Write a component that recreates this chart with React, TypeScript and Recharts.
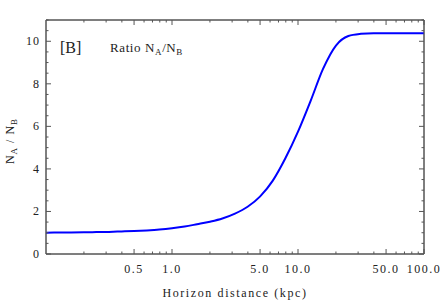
import React from "react";
import { LineChart, Line, XAxis, YAxis, CartesianGrid } from "recharts";

const distances = [0.1, 0.126, 0.158, 0.2, 0.251, 0.316, 0.398, 0.501, 0.631, 0.794, 1.0, 1.26, 1.58, 2.0, 2.51, 3.16, 3.98, 5.01, 6.31, 7.94, 10.0, 12.6, 15.8, 20.0, 25.1, 31.6, 39.8, 50.1, 63.1, 79.4, 100];
const ratios = [1.0, 1.01, 1.015, 1.02, 1.03, 1.04, 1.06, 1.08, 1.11, 1.15, 1.21, 1.29, 1.4, 1.52, 1.67, 1.9, 2.22, 2.71, 3.45, 4.5, 5.75, 7.2, 8.7, 9.8, 10.25, 10.35, 10.38, 10.38, 10.38, 10.38, 10.38];

const xMajorTicks = [0.5, 1, 5, 10, 50, 100];
const xMinorTicks = [0.2, 0.3, 0.4, 0.6, 0.7, 0.8, 0.9, 2, 3, 4, 6, 7, 8, 9, 20, 30, 40, 60, 70, 80, 90];
const yMajorTicks = [0, 2, 4, 6, 8, 10];
const yMinorTicks = [0.5, 1, 1.5, 2.5, 3, 3.5, 4.5, 5, 5.5, 6.5, 7, 7.5, 8.5, 9, 9.5, 10.5, 11];

const data = distances.map((x, i) => ({ x, r: ratios[i] }));
const xTicks = [...xMajorTicks, ...xMinorTicks].sort((a, b) => a - b);
const yTicks = [...yMajorTicks, ...yMinorTicks].sort((a, b) => a - b);

const FONT = "'Liberation Serif', 'Times New Roman', serif";
const TEXT = "#222";
const FRAME = "#555";

const BottomTick = (props: any) => {
  const { x, y, payload } = props;
  const major = xMajorTicks.includes(payload.value);
  return (
    <g>
      <line x1={x} x2={x} y1={y} y2={y - (major ? 5 : 2.5)} stroke={FRAME} strokeWidth={1} />
      {major && (
        <text x={x} y={y + 19} textAnchor="middle" fontFamily={FONT} fontSize={12} letterSpacing={1.5} fill={TEXT}>
          {Number(payload.value).toFixed(1)}
        </text>
      )}
    </g>
  );
};

const TopTick = (props: any) => {
  const { x, y, payload } = props;
  const major = xMajorTicks.includes(payload.value);
  return <line x1={x} x2={x} y1={y} y2={y + (major ? 5 : 2.5)} stroke={FRAME} strokeWidth={1} />;
};

const LeftTick = (props: any) => {
  const { x, y, payload } = props;
  const major = yMajorTicks.includes(payload.value);
  return (
    <g>
      <line x1={x} x2={x + (major ? 5 : 2.5)} y1={y} y2={y} stroke={FRAME} strokeWidth={1} />
      {major && (
        <text x={x - 6} y={y + 4} textAnchor="end" fontFamily={FONT} fontSize={12} letterSpacing={1} fill={TEXT}>
          {payload.value}
        </text>
      )}
    </g>
  );
};

const RightTick = (props: any) => {
  const { x, y, payload } = props;
  const major = yMajorTicks.includes(payload.value);
  return <line x1={x} x2={x - (major ? 5 : 2.5)} y1={y} y2={y} stroke={FRAME} strokeWidth={1} />;
};

export default function App() {
  return (
    <div style={{ position: "absolute", left: 0, top: 0, width: 443, height: 300, background: "#fff" }}>
      <svg width={443} height={300} style={{ position: "absolute", left: 0, top: 0, pointerEvents: "none" }}>
        <text x={60} y={53} fontFamily={FONT} fontSize={16} fill={TEXT}>[B]</text>
        <text x={110} y={52} fontFamily={FONT} fontSize={13} letterSpacing={0.6} fill={TEXT}>
          Ratio N<tspan fontSize={9} dy={3}>A</tspan><tspan dy={-3}>/N</tspan><tspan fontSize={9} dy={3}>B</tspan>
        </text>
        <text x={14} y={141} transform="rotate(-90 14 141)" textAnchor="middle" fontFamily={FONT} fontSize={12} letterSpacing={1} fill={TEXT}>
          N<tspan fontSize={9} dy={3}>A</tspan><tspan dy={-3}> / N</tspan><tspan fontSize={9} dy={3}>B</tspan>
        </text>
        <text x={235} y={297} textAnchor="middle" fontFamily={FONT} fontSize={12} letterSpacing={1.6} fill={TEXT}>
          Horizon distance  (kpc)
        </text>
      </svg>
      <LineChart width={443} height={300} data={data} margin={{ top: 0, right: 0, bottom: 0, left: 0 }}>
        <CartesianGrid
          stroke={FRAME}
          strokeWidth={1}
          horizontalCoordinatesGenerator={(p: any) => [p.offset.top, p.offset.top + p.offset.height]}
          verticalCoordinatesGenerator={(p: any) => [p.offset.left, p.offset.left + p.offset.width]}
        />
        <XAxis
          dataKey="x"
          type="number"
          scale="log"
          domain={[0.1, 100]}
          allowDataOverflow
          ticks={xTicks}
          interval={0}
          height={46}
          tickSize={0}
          tickMargin={0}
          tick={<BottomTick />}
          stroke={FRAME}
          tickLine={false}
        />
        <XAxis
          xAxisId="top"
          orientation="top"
          dataKey="x"
          type="number"
          scale="log"
          domain={[0.1, 100]}
          allowDataOverflow
          ticks={xTicks}
          interval={0}
          height={20}
          tickSize={0}
          tickMargin={0}
          tick={<TopTick />}
          stroke={FRAME}
        />
        <YAxis
          type="number"
          domain={[0, 11]}
          allowDataOverflow
          ticks={yTicks}
          interval={0}
          width={46}
          tickSize={0}
          tickMargin={0}
          tick={<LeftTick />}
          stroke={FRAME}
          tickLine={false}
        />
        <YAxis
          yAxisId="right"
          orientation="right"
          type="number"
          domain={[0, 11]}
          allowDataOverflow
          ticks={yTicks}
          interval={0}
          width={19}
          tickSize={0}
          tickMargin={0}
          tick={<RightTick />}
          stroke={FRAME}
        />
        <Line
          xAxisId="top"
          yAxisId="right"
          type="monotone"
          dataKey="r"
          stroke="none"
          dot={false}
          legendType="none"
          isAnimationActive={false}
        />
        <Line
          type="monotone"
          dataKey="r"
          stroke="#0000ff"
          strokeWidth={2}
          dot={false}
          isAnimationActive={false}
        />
      </LineChart>
    </div>
  );
}
